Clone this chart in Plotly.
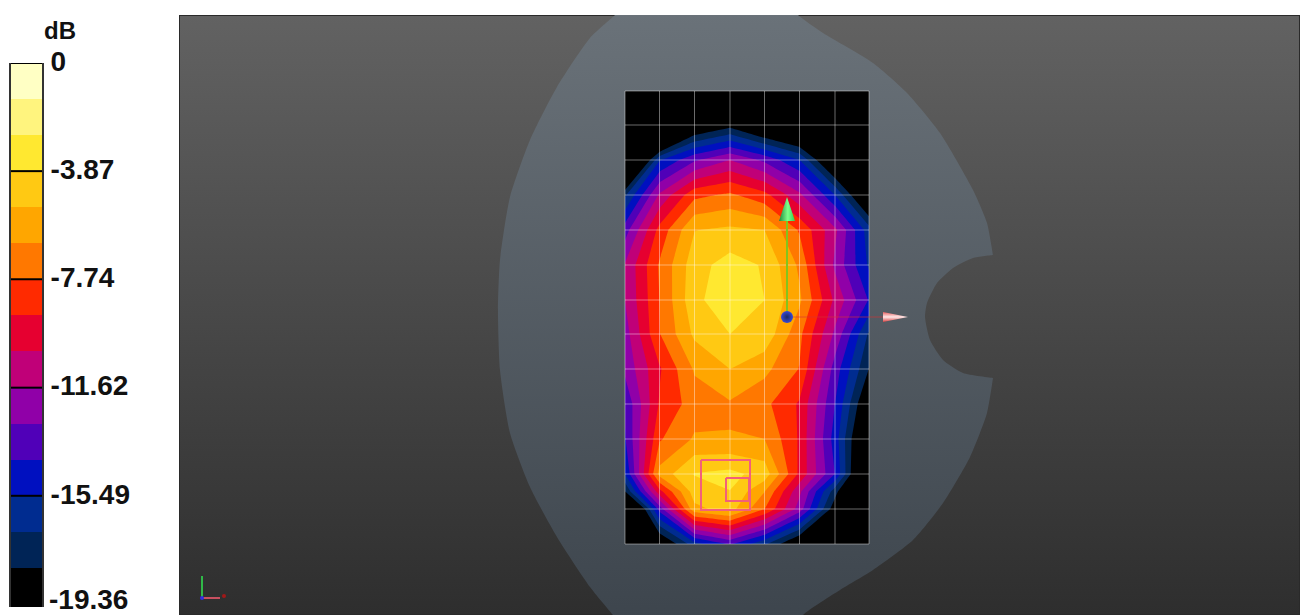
import plotly.graph_objects as go

# Measurement grid
grid_x = [625, 659.5, 694.5, 730, 764.5, 799.5, 835, 869]
grid_y = [91, 125, 160, 195, 230, 265, 300, 334, 369, 404, 439, 474, 491.5, 509, 544]

# Field values in dB at the grid nodes (row by row, top to bottom)
row_00 = [-30, -30, -26, -24, -26, -30, -30, -30]
row_01 = [-30, -26.3, -20.06, -18.6, -20.9, -22.4, -28, -30]
row_02 = [-24.5, -15.6, -13.1, -11.62, -13.2, -15.5, -20.8, -26]
row_03 = [-17, -11.4, -8.1, -7.5, -8.6, -11.3, -15.5, -21]
row_04 = [-13.5, -8.6, -5.2, -4.9, -5.16, -7.9, -11.3, -16.2]
row_05 = [-11.5, -7.6, -4.4, -3.3, -4.0, -6.7, -11.9, -15.7]
row_06 = [-11.6, -7.74, -4.2, -3.0, -3.87, -6.2, -10.6, -14.3]
row_07 = [-12.2, -7.8, -4.9, -3.87, -4.2, -7.4, -11.9, -17]
row_08 = [-12.6, -9.2, -6.3, -5.16, -6.1, -7.8, -13.5, -18.1]
row_09 = [-14, -8.9, -7.1, -6.6, -7.4, -9.2, -14.2, -20]
row_10 = [-14.3, -7.9, -6.3, -6.4, -6.45, -9.2, -14.8, -21.5]
row_11 = [-15.5, -6.0, -3.8, -3.5, -4.4, -9.3, -14.2, -22.5]
row_11b = [-18.1, -9.5, -4.5, -3.9, -6.4, -11.3, -17.5, -24]
row_12 = [-24, -13.7, -5.5, -4.6, -7.7, -12.2, -19, -26]
row_13 = [-30, -20, -16, -14, -16.5, -20, -28, -30]
field = [row_00, row_01, row_02, row_03, row_04, row_05, row_06,
         row_07, row_08, row_09, row_10, row_11, row_11b, row_12, row_13]
grid_rows = [91, 125, 160, 195, 230, 265, 300, 334, 369, 404, 439, 474, 509, 544]

# Colour bar
band_colors = ["#000000", "#002456", "#002C90", "#0010C0", "#5000B8", "#9000A8", "#C00078",
               "#E60030", "#FF2A00", "#FF7800", "#FFA600", "#FFC913", "#FFE830", "#FFF47E", "#FFFFC4"]
db_min = -19.36
axis_min = -19.47
tick_vals = [0, -3.87, -7.74, -11.62, -15.49]
tick_text = ["0", "-3.87", "-7.74", "-11.62", "-15.49"]
last_label = "-19.36"
step = -db_min / 15
band_edges = [axis_min] + [db_min + i * step for i in range(1, 16)]
band_mids = [[db_min + (i + 0.5) * step] for i in range(15)]
scale = [[i / 14, c] for i, c in enumerate(band_colors)]

# Head phantom outline
head_x = [630, 615, 590, 557, 530, 510, 500, 498, 500, 510, 530, 557, 590, 613, 630, 630, 790, 790, 803, 840, 873, 913, 943, 970, 987, 993, 993,
          963, 943, 930, 925, 927, 937, 953, 973, 993, 993, 987, 973, 940, 907, 873, 823, 798, 785, 785, 630, 630]
head_y = [0, 15, 38, 87, 140, 197, 260, 310, 370, 433, 487, 537, 587, 615, 635, 635, 635, 635, 615, 590, 570, 540, 503, 457, 413, 378, 378,
          373, 360, 340, 317, 303, 283, 268, 258, 255, 255, 223, 190, 133, 93, 63, 33, 15, 0, 0, 0, 0]

# Annotations on the scene
big_x = [701, 750, 750, 701, 701]
big_y = [460, 460, 510, 510, 460]
small_x = [726, 749, 749, 726, 726]
small_y = [478, 478, 501, 501, 478]
green_cone_x = [779, 787, 795, 779]
green_cone_y = [221, 197, 221, 221]
red_cone_x = [883, 908, 883, 883]
red_cone_y = [312, 317, 322, 312]

XD = [179 / 1300, 1]
YD = [0, 600 / 615]
skip = dict(hoverinfo="skip", showlegend=False)
fig = go.Figure()
# background and head live on the base axes so the contour can stack above them
fig.add_trace(go.Scatter(x=[179, 1300, 1300, 179, 179], y=[15, 15, 615, 615, 15], mode="lines", line=dict(width=2, color="#2A2A2A"),
                         fill="toself", fillgradient=dict(type="vertical", colorscale=[[0, "#2E2E2E"], [1, "#626262"]]), **skip))
fig.add_trace(go.Scatter(x=head_x, y=head_y, mode="lines", line=dict(width=0, shape="spline", smoothing=0.6), fill="toself",
                         fillgradient=dict(type="vertical", colorscale=[[0, "#3C444C"], [1, "#6B737A"]]), **skip))
top = dict(xaxis="x3", yaxis="y3")
fig.add_trace(go.Contour(x=grid_x, y=grid_y, z=field, colorscale=scale, showscale=False, autocontour=False,
                         contours=dict(start=db_min + step, end=-step, size=step, coloring="fill", showlines=False),
                         line=dict(width=0, smoothing=0), hoverinfo="skip", **top))
# grid
gx, gy = [], []
for v in grid_x:
    gx += [v, v, None]
    gy += [grid_rows[0], grid_rows[-1], None]
for v in grid_rows:
    gx += [grid_x[0], grid_x[-1], None]
    gy += [v, v, None]
fig.add_trace(go.Scatter(x=gx, y=gy, mode="lines", line=dict(color="rgba(255,255,255,0.42)", width=1), **skip, **top))
for xs, ys in ((big_x, big_y), (small_x, small_y)):
    fig.add_trace(go.Scatter(x=xs, y=ys, mode="lines", line=dict(color="#F2607A", width=2), **skip, **top))
fig.add_trace(go.Scatter(x=[787, 885], y=[317, 317], mode="lines", line=dict(color="rgba(215,50,50,0.6)", width=1), **skip, **top))
fig.add_trace(go.Scatter(x=[787, 787], y=[221, 316], mode="lines", line=dict(color="#84C41C", width=2), **skip, **top))
fig.add_trace(go.Scatter(x=green_cone_x, y=green_cone_y, mode="lines", line=dict(width=0), fill="toself",
                         fillgradient=dict(type="horizontal", colorscale=[[0, "#1E8A3C"], [0.55, "#7CFF8C"], [1, "#2FD050"]]), **skip, **top))
fig.add_trace(go.Scatter(x=red_cone_x, y=red_cone_y, mode="lines", line=dict(width=0), fill="toself",
                         fillgradient=dict(type="vertical", colorscale=[[0, "#D84040"], [0.5, "#FFE8E8"], [1, "#E86060"]]), **skip, **top))
fig.add_trace(go.Scatter(x=[787], y=[317], mode="markers",
                         marker=dict(size=12, color="#3848D8", gradient=dict(type="radial", color="#1C2C60"), line=dict(width=0)), **skip, **top))
# corner triad
fig.add_trace(go.Scatter(x=[202, 202], y=[576, 598], mode="lines", line=dict(color="#30B848", width=2), **skip, **top))
fig.add_trace(go.Scatter(x=[202, 220], y=[598, 598], mode="lines", line=dict(color="#C85060", width=2), **skip, **top))
fig.add_trace(go.Scatter(x=[224], y=[596], mode="markers", marker=dict(size=4, color="#A01818"), **skip, **top))
fig.add_trace(go.Scatter(x=[202], y=[598], mode="markers", marker=dict(size=4, color="#3030E0"), **skip, **top))

# colour bar on its own axes
fig.add_trace(go.Heatmap(x=[0, 1], y=band_edges, z=band_mids, colorscale=scale, showscale=False,
                         zmin=band_mids[0][0], zmax=band_mids[-1][0], xaxis="x2", yaxis="y2", hoverinfo="skip"))
for v in tick_vals:
    fig.add_shape(type="line", xref="x2", yref="y2", x0=0, x1=1, y0=v, y1=v, line=dict(color="#000000", width=2))

fig.update_layout(
    width=1300, height=615, autosize=False, margin=dict(l=0, r=0, t=0, b=0, pad=0, autoexpand=False),
    paper_bgcolor="#FFFFFF", plot_bgcolor="#444444", showlegend=False, hovermode=False,
    font=dict(family="Liberation Sans", color="#000000"),
    xaxis=dict(domain=XD, range=[179, 1300], visible=False),
    yaxis=dict(domain=YD, range=[615, 15], visible=False),
    xaxis3=dict(domain=XD, range=[179, 1300], visible=False, overlaying="x", anchor="y3"),
    yaxis3=dict(domain=YD, range=[615, 15], visible=False, overlaying="y", anchor="x3"),
    xaxis2=dict(domain=[11 / 1300, 42 / 1300], range=[0, 1], anchor="y2", visible=False),
    yaxis2=dict(domain=[8 / 615, 552 / 615], range=[axis_min, 0], anchor="x2", side="right", tickmode="array",
                tickvals=tick_vals, ticktext=tick_text, ticks="outside", ticklen=1, tickcolor="rgba(0,0,0,0)",
                ticklabelshift=-2,
                tickfont=dict(size=28, family="Liberation Sans", color="#111111", weight="bold"), showgrid=False, zeroline=False,
                showline=True, linecolor="#333333", linewidth=2, mirror=True),
    annotations=[dict(text="<b>dB</b>", xref="paper", yref="paper", x=60 / 1300, y=1 - 30 / 615, showarrow=False,
                      xanchor="center", yanchor="middle", font=dict(size=24, family="Liberation Sans", color="#111111")),
                 dict(text="<b>" + last_label + "</b>", xref="paper", yref="paper", x=47 / 1300, y=1 - 599 / 615, showarrow=False,
                      xanchor="left", yanchor="middle", font=dict(size=28, family="Liberation Sans", color="#111111"))],
)
fig.write_html("out.html", post_script="document.body.style.margin='0';", config=dict(displayModeBar=False))
